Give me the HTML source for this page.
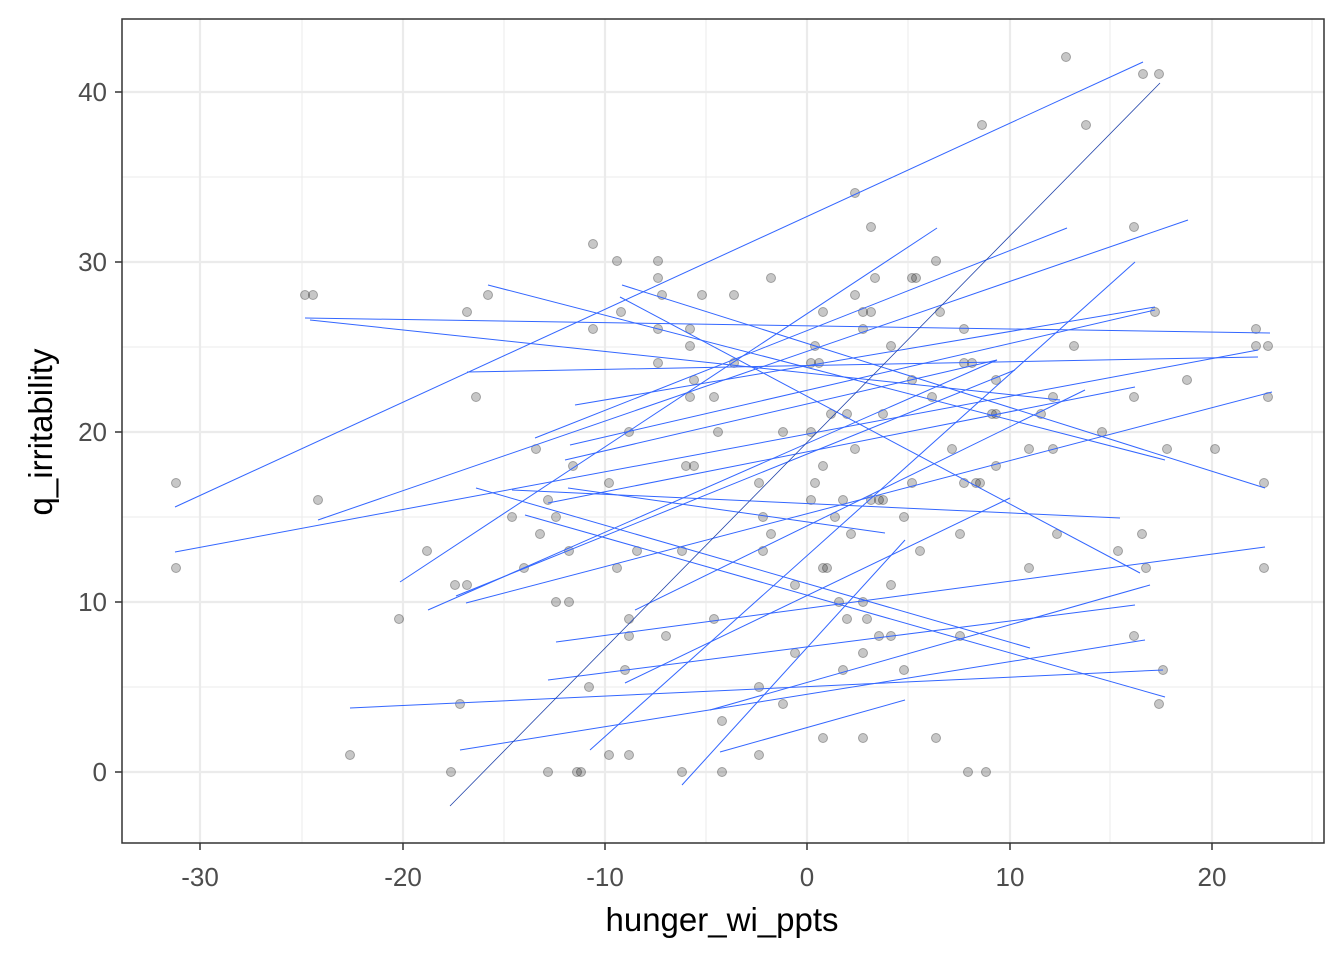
<!DOCTYPE html>
<html><head><meta charset="utf-8"><style>body{margin:0;background:#fff}svg{display:block}</style></head><body>
<svg width="1344" height="960" xmlns="http://www.w3.org/2000/svg" font-family="Liberation Sans, sans-serif">
<rect width="1344" height="960" fill="#fff"/>
<g stroke="#ebebeb" stroke-width="1">
<line x1="302" y1="19" x2="302" y2="843"/><line x1="504" y1="19" x2="504" y2="843"/><line x1="706" y1="19" x2="706" y2="843"/><line x1="908" y1="19" x2="908" y2="843"/><line x1="1110" y1="19" x2="1110" y2="843"/><line x1="1312" y1="19" x2="1312" y2="843"/>
<line x1="122" y1="687" x2="1324" y2="687"/><line x1="122" y1="517" x2="1324" y2="517"/><line x1="122" y1="347" x2="1324" y2="347"/><line x1="122" y1="177" x2="1324" y2="177"/>
</g>
<g stroke="#ebebeb" stroke-width="2.2">
<line x1="200" y1="19" x2="200" y2="843"/><line x1="403" y1="19" x2="403" y2="843"/><line x1="605" y1="19" x2="605" y2="843"/><line x1="807" y1="19" x2="807" y2="843"/><line x1="1010" y1="19" x2="1010" y2="843"/><line x1="1212" y1="19" x2="1212" y2="843"/>
<line x1="122" y1="772" x2="1324" y2="772"/><line x1="122" y1="602" x2="1324" y2="602"/><line x1="122" y1="432" x2="1324" y2="432"/><line x1="122" y1="262" x2="1324" y2="262"/><line x1="122" y1="92" x2="1324" y2="92"/>
</g>
<g fill="#000" fill-opacity="0.22" stroke="#000" stroke-opacity="0.3" stroke-width="1">
<circle cx="176" cy="483" r="4.5"/><circle cx="176" cy="568" r="4.5"/><circle cx="305" cy="295" r="4.5"/><circle cx="313" cy="295" r="4.5"/><circle cx="318" cy="500" r="4.5"/><circle cx="350" cy="755" r="4.5"/><circle cx="399" cy="619" r="4.5"/><circle cx="427" cy="551" r="4.5"/><circle cx="451" cy="772" r="4.5"/><circle cx="455" cy="585" r="4.5"/><circle cx="460" cy="704" r="4.5"/><circle cx="467" cy="585" r="4.5"/><circle cx="467" cy="312" r="4.5"/><circle cx="476" cy="397" r="4.5"/><circle cx="488" cy="295" r="4.5"/><circle cx="512" cy="517" r="4.5"/><circle cx="524" cy="568" r="4.5"/><circle cx="536" cy="449" r="4.5"/><circle cx="540" cy="534" r="4.5"/><circle cx="548" cy="772" r="4.5"/><circle cx="548" cy="500" r="4.5"/><circle cx="556" cy="602" r="4.5"/><circle cx="556" cy="517" r="4.5"/><circle cx="569" cy="551" r="4.5"/><circle cx="569" cy="602" r="4.5"/><circle cx="573" cy="466" r="4.5"/><circle cx="577" cy="772" r="4.5"/><circle cx="581" cy="772" r="4.5"/><circle cx="589" cy="687" r="4.5"/><circle cx="593" cy="244" r="4.5"/><circle cx="593" cy="329" r="4.5"/><circle cx="609" cy="755" r="4.5"/><circle cx="609" cy="483" r="4.5"/><circle cx="617" cy="568" r="4.5"/><circle cx="617" cy="261" r="4.5"/><circle cx="621" cy="312" r="4.5"/><circle cx="625" cy="670" r="4.5"/><circle cx="629" cy="619" r="4.5"/><circle cx="629" cy="636" r="4.5"/><circle cx="629" cy="755" r="4.5"/><circle cx="629" cy="432" r="4.5"/><circle cx="637" cy="551" r="4.5"/><circle cx="658" cy="261" r="4.5"/><circle cx="658" cy="278" r="4.5"/><circle cx="658" cy="329" r="4.5"/><circle cx="658" cy="363" r="4.5"/><circle cx="662" cy="295" r="4.5"/><circle cx="666" cy="636" r="4.5"/><circle cx="682" cy="772" r="4.5"/><circle cx="682" cy="551" r="4.5"/><circle cx="686" cy="466" r="4.5"/><circle cx="690" cy="329" r="4.5"/><circle cx="690" cy="397" r="4.5"/><circle cx="694" cy="380" r="4.5"/><circle cx="690" cy="346" r="4.5"/><circle cx="694" cy="466" r="4.5"/><circle cx="702" cy="295" r="4.5"/><circle cx="714" cy="397" r="4.5"/><circle cx="714" cy="619" r="4.5"/><circle cx="718" cy="432" r="4.5"/><circle cx="722" cy="721" r="4.5"/><circle cx="722" cy="772" r="4.5"/><circle cx="734" cy="295" r="4.5"/><circle cx="734" cy="363" r="4.5"/><circle cx="759" cy="483" r="4.5"/><circle cx="759" cy="687" r="4.5"/><circle cx="759" cy="755" r="4.5"/><circle cx="763" cy="517" r="4.5"/><circle cx="763" cy="551" r="4.5"/><circle cx="771" cy="534" r="4.5"/><circle cx="771" cy="278" r="4.5"/><circle cx="783" cy="704" r="4.5"/><circle cx="783" cy="432" r="4.5"/><circle cx="795" cy="653" r="4.5"/><circle cx="795" cy="585" r="4.5"/><circle cx="811" cy="363" r="4.5"/><circle cx="811" cy="432" r="4.5"/><circle cx="811" cy="500" r="4.5"/><circle cx="815" cy="346" r="4.5"/><circle cx="815" cy="483" r="4.5"/><circle cx="819" cy="363" r="4.5"/><circle cx="823" cy="466" r="4.5"/><circle cx="823" cy="568" r="4.5"/><circle cx="827" cy="568" r="4.5"/><circle cx="823" cy="738" r="4.5"/><circle cx="823" cy="312" r="4.5"/><circle cx="831" cy="414" r="4.5"/><circle cx="835" cy="517" r="4.5"/><circle cx="839" cy="602" r="4.5"/><circle cx="843" cy="670" r="4.5"/><circle cx="843" cy="500" r="4.5"/><circle cx="847" cy="414" r="4.5"/><circle cx="847" cy="619" r="4.5"/><circle cx="851" cy="534" r="4.5"/><circle cx="855" cy="193" r="4.5"/><circle cx="855" cy="295" r="4.5"/><circle cx="855" cy="449" r="4.5"/><circle cx="863" cy="602" r="4.5"/><circle cx="863" cy="653" r="4.5"/><circle cx="863" cy="738" r="4.5"/><circle cx="863" cy="312" r="4.5"/><circle cx="863" cy="329" r="4.5"/><circle cx="867" cy="619" r="4.5"/><circle cx="871" cy="227" r="4.5"/><circle cx="871" cy="312" r="4.5"/><circle cx="871" cy="500" r="4.5"/><circle cx="875" cy="278" r="4.5"/><circle cx="879" cy="500" r="4.5"/><circle cx="879" cy="636" r="4.5"/><circle cx="883" cy="500" r="4.5"/><circle cx="883" cy="414" r="4.5"/><circle cx="891" cy="346" r="4.5"/><circle cx="891" cy="585" r="4.5"/><circle cx="891" cy="636" r="4.5"/><circle cx="904" cy="517" r="4.5"/><circle cx="904" cy="670" r="4.5"/><circle cx="912" cy="278" r="4.5"/><circle cx="916" cy="278" r="4.5"/><circle cx="912" cy="380" r="4.5"/><circle cx="912" cy="483" r="4.5"/><circle cx="920" cy="551" r="4.5"/><circle cx="932" cy="397" r="4.5"/><circle cx="936" cy="261" r="4.5"/><circle cx="936" cy="738" r="4.5"/><circle cx="940" cy="312" r="4.5"/><circle cx="952" cy="449" r="4.5"/><circle cx="960" cy="636" r="4.5"/><circle cx="960" cy="534" r="4.5"/><circle cx="964" cy="329" r="4.5"/><circle cx="964" cy="363" r="4.5"/><circle cx="964" cy="483" r="4.5"/><circle cx="968" cy="772" r="4.5"/><circle cx="972" cy="363" r="4.5"/><circle cx="976" cy="483" r="4.5"/><circle cx="980" cy="483" r="4.5"/><circle cx="982" cy="125" r="4.5"/><circle cx="986" cy="772" r="4.5"/><circle cx="992" cy="414" r="4.5"/><circle cx="996" cy="414" r="4.5"/><circle cx="996" cy="380" r="4.5"/><circle cx="996" cy="466" r="4.5"/><circle cx="1029" cy="449" r="4.5"/><circle cx="1029" cy="568" r="4.5"/><circle cx="1041" cy="414" r="4.5"/><circle cx="1053" cy="397" r="4.5"/><circle cx="1053" cy="449" r="4.5"/><circle cx="1057" cy="534" r="4.5"/><circle cx="1066" cy="57" r="4.5"/><circle cx="1074" cy="346" r="4.5"/><circle cx="1086" cy="125" r="4.5"/><circle cx="1102" cy="432" r="4.5"/><circle cx="1118" cy="551" r="4.5"/><circle cx="1134" cy="227" r="4.5"/><circle cx="1134" cy="397" r="4.5"/><circle cx="1134" cy="636" r="4.5"/><circle cx="1142" cy="534" r="4.5"/><circle cx="1146" cy="568" r="4.5"/><circle cx="1143" cy="74" r="4.5"/><circle cx="1159" cy="74" r="4.5"/><circle cx="1155" cy="312" r="4.5"/><circle cx="1163" cy="670" r="4.5"/><circle cx="1159" cy="704" r="4.5"/><circle cx="1167" cy="449" r="4.5"/><circle cx="1187" cy="380" r="4.5"/><circle cx="1215" cy="449" r="4.5"/><circle cx="1256" cy="329" r="4.5"/><circle cx="1256" cy="346" r="4.5"/><circle cx="1264" cy="483" r="4.5"/><circle cx="1264" cy="568" r="4.5"/><circle cx="1268" cy="346" r="4.5"/><circle cx="1268" cy="397" r="4.5"/>
</g>
<g stroke="#3366FF" stroke-width="1" fill="none">
<line x1="175" y1="507" x2="1143" y2="62"/>
<line x1="175" y1="552" x2="1258" y2="350"/>
<line x1="318" y1="520" x2="1188" y2="220"/>
<line x1="400" y1="582" x2="937" y2="228"/>
<line x1="535" y1="438" x2="1067" y2="228"/>
<line x1="428" y1="610" x2="997" y2="360"/>
<line x1="456" y1="596" x2="1015" y2="370"/>
<line x1="466" y1="603" x2="1272" y2="392"/>
<line x1="548" y1="503" x2="1135" y2="387"/>
<line x1="570" y1="445" x2="1155" y2="310"/>
<line x1="575" y1="405" x2="1155" y2="307"/>
<line x1="467" y1="372" x2="1258" y2="357"/>
<line x1="305" y1="318" x2="1270" y2="333"/>
<line x1="512" y1="490" x2="1120" y2="518"/>
<line x1="476" y1="488" x2="1030" y2="648"/>
<line x1="525" y1="515" x2="1165" y2="697"/>
<line x1="488" y1="285" x2="1165" y2="460"/>
<line x1="620" y1="297" x2="1140" y2="573"/>
<line x1="310" y1="320" x2="1060" y2="400"/>
<line x1="622" y1="285" x2="1265" y2="488"/>
<line x1="350" y1="708" x2="1163" y2="670"/>
<line x1="460" y1="750" x2="1145" y2="640"/>
<line x1="548" y1="680" x2="1135" y2="605"/>
<line x1="556" y1="642" x2="1265" y2="547"/>
<line x1="625" y1="683" x2="1010" y2="498"/>
<line x1="590" y1="750" x2="1135" y2="262"/>
<line x1="682" y1="785" x2="905" y2="540"/>
<line x1="720" y1="752" x2="905" y2="700"/>
<line x1="710" y1="710" x2="1150" y2="585"/>
<line x1="568" y1="488" x2="885" y2="533"/>
<line x1="565" y1="460" x2="997" y2="360"/>
<line x1="635" y1="610" x2="1085" y2="390"/>
<line x1="450" y1="806" x2="1160" y2="83" stroke="#2244aa" stroke-width="0.8"/>
</g>
<rect x="122" y="19" width="1202" height="824" fill="none" stroke="#333" stroke-width="1.5"/>
<g stroke="#333" stroke-width="1.5">
<line x1="200" y1="843" x2="200" y2="850"/><line x1="403" y1="843" x2="403" y2="850"/><line x1="605" y1="843" x2="605" y2="850"/><line x1="807" y1="843" x2="807" y2="850"/><line x1="1010" y1="843" x2="1010" y2="850"/><line x1="1212" y1="843" x2="1212" y2="850"/>
<line x1="115" y1="772" x2="122" y2="772"/><line x1="115" y1="602" x2="122" y2="602"/><line x1="115" y1="432" x2="122" y2="432"/><line x1="115" y1="262" x2="122" y2="262"/><line x1="115" y1="92" x2="122" y2="92"/>
</g>
<g fill="#4d4d4d" font-size="26" text-anchor="middle">
<text x="200" y="886">-30</text><text x="403" y="886">-20</text><text x="605" y="886">-10</text><text x="807" y="886">0</text><text x="1010" y="886">10</text><text x="1212" y="886">20</text>
</g>
<g fill="#4d4d4d" font-size="26" text-anchor="end">
<text x="107" y="781">0</text><text x="107" y="611">10</text><text x="107" y="441">20</text><text x="107" y="271">30</text><text x="107" y="101">40</text>
</g>
<text x="722" y="931" font-size="33" text-anchor="middle" fill="#000">hunger_wi_ppts</text>
<text transform="translate(52,432) rotate(-90)" font-size="33" text-anchor="middle" fill="#000">q_irritability</text>
</svg>
</body></html>
